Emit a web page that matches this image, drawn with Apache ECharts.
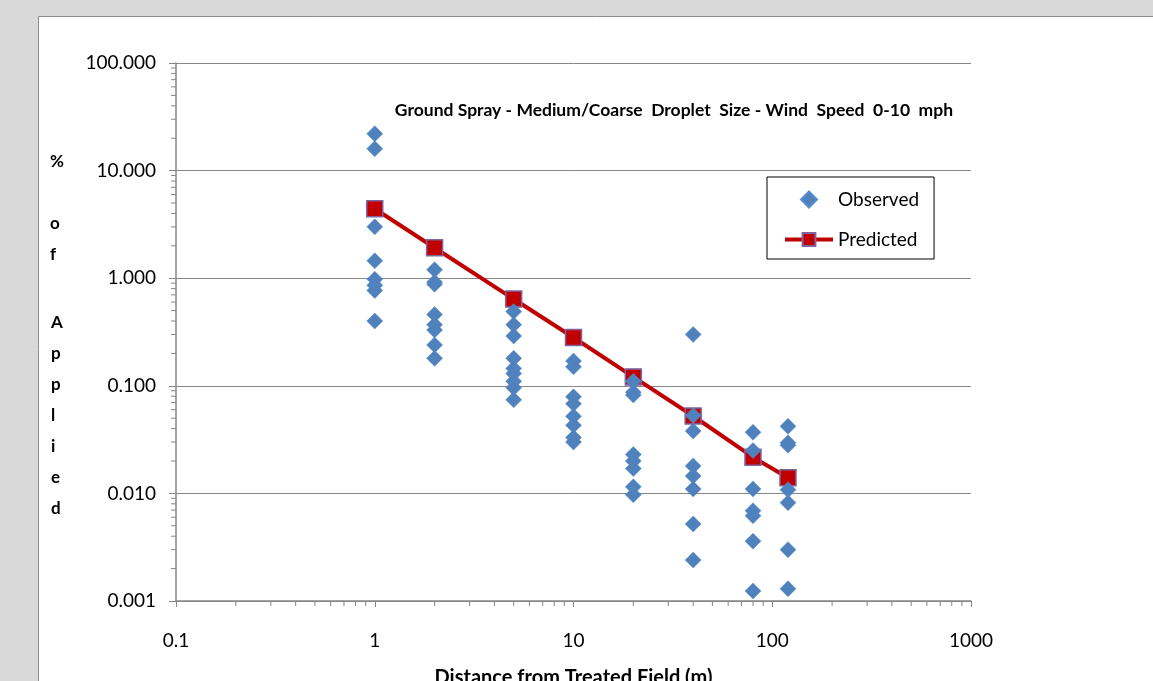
<!DOCTYPE html>
<html>
<head>
<meta charset="utf-8">
<script src="https://cdn.jsdelivr.net/npm/echarts@6/dist/echarts.min.js"></script>
<style>
  html, body { margin: 0; padding: 0; background: #d9d9d9; }
  #chart { width: 1153px; height: 681px; }
</style>
</head>
<body>
<div id="chart"></div>
<script>
// distances from the treated field (m)
const distances = [1, 2, 5, 10, 20, 40, 80, 120];

// observed % of applied, one list per distance
const observed1 = [22, 16, 3.0, 1.45, 0.98, 0.86, 0.77, 0.40];
const observed2 = [1.2, 0.92, 0.88, 0.46, 0.37, 0.33, 0.24, 0.18];
const observed5 = [0.49, 0.37, 0.29, 0.18, 0.145, 0.13, 0.11, 0.096, 0.074];
const observed10 = [0.17, 0.15, 0.079, 0.068, 0.052, 0.043, 0.033, 0.030];
const observed20 = [0.11, 0.087, 0.082, 0.023, 0.020, 0.017, 0.0115, 0.0097];
const observed40 = [0.30, 0.053, 0.038, 0.018, 0.0145, 0.011, 0.0052, 0.0024];
const observed80 = [0.037, 0.025, 0.011, 0.0069, 0.0062, 0.0036, 0.00124];
const observed120 = [0.042, 0.0295, 0.028, 0.0108, 0.0082, 0.0030, 0.0013];

const predicted = [4.42, 1.92, 0.64, 0.281, 0.121, 0.0524, 0.0217, 0.014];

// minor tick positions inside each decade
const minorSteps = [2, 3, 4, 5, 6, 7, 8, 9];
const xDecades = [0.1, 1, 10, 100];
const yDecades = [0.001, 0.01, 0.1, 1, 10];

const X_MIN = 0.1, X_MAX = 1000, Y_MIN = 0.001, Y_MAX = 100;

const observedLists = [observed1, observed2, observed5, observed10, observed20, observed40, observed80, observed120];
const observedData = [];
observedLists.forEach((list, i) => {
    list.forEach(v => observedData.push([distances[i], v]));
});
const predictedData = distances.map((d, i) => [d, predicted[i]]);

const xMinorData = [];
xDecades.forEach(d => minorSteps.forEach(s => xMinorData.push([d * s, Y_MIN])));
const yMinorData = [];
yDecades.forEach(d => minorSteps.forEach(s => yMinorData.push([X_MIN, d * s])));

const axisGray = "#868686";
const fontFamily = "Lato, 'Open Sans', sans-serif";

const chart = echarts.init(document.getElementById("chart"));

const option = {
    backgroundColor: "#d9d9d9",
    animation: false,
    textStyle: { fontFamily: fontFamily },
    graphic: [
        {
            type: "rect",
            z: -10,
            shape: { x: 38.5, y: 16.5, width: 1200, height: 700 },
            style: { fill: "#ffffff", stroke: "#8c8c8c", lineWidth: 1 }
        },
        {
            type: "text",
            left: 50, top: 146,
            style: {
                text: "%\n\no\nf",
                font: "bold 17px " + fontFamily,
                lineHeight: 31,
                fill: "#000",
                align: "center"
            }
        },
        {
            type: "text",
            left: 51, top: 307,
            style: {
                text: "A\np\np\nl\ni\ne\nd",
                font: "bold 17px " + fontFamily,
                lineHeight: 31,
                fill: "#000",
                align: "center"
            }
        }
    ],
    title: {
        text: "Ground Spray - Medium/Coarse  Droplet  Size - Wind  Speed  0-10  mph",
        right: 195,
        top: 96,
        textStyle: { fontSize: 17.5, fontWeight: "bold", color: "#000", fontFamily: fontFamily }
    },
    legend: {
        data: [
            { name: "Observed", icon: "path://M8,0L16,8L8,16L0,8Z" },
            { name: "Predicted" }
        ],
        orient: "vertical",
        left: 767,
        top: 177,
        borderColor: "#000",
        borderWidth: 1,
        padding: [13, 15, 10, 16],
        itemGap: 21,
        itemWidth: 48,
        itemHeight: 16,
        lineStyle: { width: 4 },
        textStyle: { fontSize: 19, color: "#000", fontFamily: fontFamily }
    },
    grid: { left: 176, top: 63, width: 795, height: 538, outerBoundsMode: "none", containLabel: false },
    xAxis: {
        type: "log",
        logBase: 10,
        min: X_MIN,
        max: X_MAX,
        name: "Distance from Treated Field (m)",
        nameLocation: "middle",
        nameGap: 67,
        nameTextStyle: { fontSize: 20, fontWeight: "bold", color: "#000", fontFamily: fontFamily },
        axisLine: { lineStyle: { color: axisGray, width: 1.5 } },
        axisTick: { show: true, length: 6, lineStyle: { color: axisGray } },
        axisLabel: {
            margin: 30,
            fontSize: 19,
            color: "#000",
            formatter: v => String(+Number(v).toPrecision(6))
        },
        splitLine: { show: false }
    },
    yAxis: {
        type: "log",
        logBase: 10,
        min: Y_MIN,
        max: Y_MAX,
        axisLine: { show: true, lineStyle: { color: axisGray, width: 1.5 } },
        axisTick: { show: true, length: 7, lineStyle: { color: axisGray } },
        axisLabel: {
            margin: 20,
            fontSize: 19,
            color: "#000",
            formatter: v => Number(v).toFixed(3)
        },
        splitLine: { show: true, lineStyle: { color: axisGray, width: 1 } }
    },
    series: [
        {
            name: "Predicted",
            type: "line",
            data: predictedData,
            symbol: "rect",
            symbolSize: 16,
            lineStyle: { color: "#c00000", width: 4 },
            itemStyle: { color: "#c00000", borderColor: "#8064a2", borderWidth: 1.5 },
            z: 3
        },
        {
            name: "Observed",
            type: "scatter",
            data: observedData,
            symbol: "diamond",
            symbolSize: 16,
            itemStyle: { color: "#4f81bd", borderColor: "#5b8ccc", borderWidth: 0.5, opacity: 1 },
            z: 4
        },
        {
            name: "xMinor",
            type: "custom",
            silent: true,
            clip: false,
            data: xMinorData,
            renderItem: (params, api) => {
                const p = api.coord([api.value(0), api.value(1)]);
                return {
                    type: "line",
                    shape: { x1: p[0], y1: p[1], x2: p[0], y2: p[1] + 5 },
                    style: { stroke: axisGray, lineWidth: 1 }
                };
            }
        },
        {
            name: "yMinor",
            type: "custom",
            silent: true,
            clip: false,
            data: yMinorData,
            renderItem: (params, api) => {
                const p = api.coord([api.value(0), api.value(1)]);
                return {
                    type: "line",
                    shape: { x1: p[0] - 5, y1: p[1], x2: p[0], y2: p[1] },
                    style: { stroke: axisGray, lineWidth: 1 }
                };
            }
        }
    ]
};

chart.setOption(option);
</script>
</body>
</html>
